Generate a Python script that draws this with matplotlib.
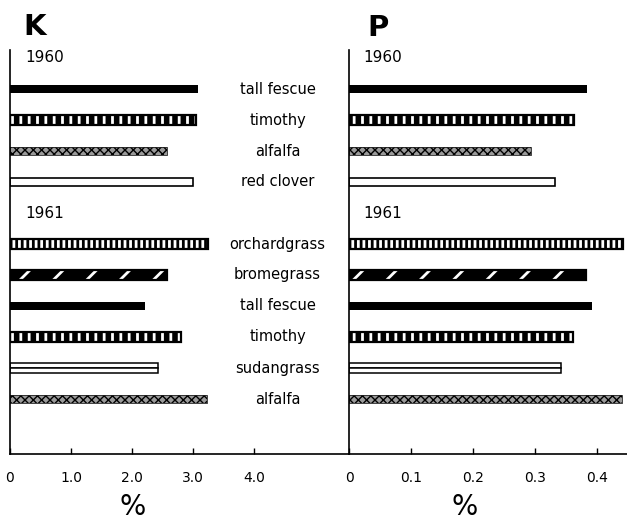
import matplotlib
matplotlib.use("Agg")
import matplotlib.pyplot as plt

plt.rcParams["font.family"] = ["DejaVu Sans"]

# ---- data -------------------------------------------------------------
crops_1960 = ["tall fescue", "timothy", "alfalfa", "red clover"]
k_1960 = [3.08, 3.04, 2.57, 3.00]
p_1960 = [0.385, 0.363, 0.294, 0.333]

crops_1961 = ["orchardgrass", "bromegrass", "tall fescue", "timothy",
              "sudangrass", "alfalfa"]
k_1961 = [3.24, 2.57, 2.21, 2.80, 2.42, 3.22]
p_1961 = [0.443, 0.383, 0.393, 0.362, 0.342, 0.441]

k_ticks = [0, 1, 2, 3, 4]
k_ticklabels = ["0", "1.0", "2.0", "3.0", "4.0"]
p_ticks = [0, 0.1, 0.2, 0.3, 0.4]
p_ticklabels = ["0", "0.1", "0.2", "0.3", "0.4"]

# fill style of each crop's bar
crop_style = {
    "tall fescue": "solid",
    "timothy": "vbar",
    "orchardgrass": "vbar_dense",
    "bromegrass": "diag",
    "alfalfa": "check",
    "red clover": "open",
    "sudangrass": "double",
}

# ---- layout (pixel geometry of a 627 x 524 canvas) ---------------------
W, H = 627, 524
fig = plt.figure(figsize=(W / 100, H / 100), dpi=100)
fig.patch.set_facecolor("white")


def px_axes(x0, x1, y0, y1):
    return fig.add_axes([x0 / W, 1 - y1 / H, (x1 - x0) / W, (y1 - y0) / H])


axK = px_axes(10, 349, 50, 454)
axP = px_axes(349, 627, 50, 454)

# row slots: 1960 header at 0, rows 1-4, 1961 header at 5, rows 6-11
slots_1960 = [1, 2, 3, 4]
slots_1961 = [6, 7, 8, 9, 10, 11]
y_top, y_bottom = (50 - 58) / 31, (454 - 58) / 31


def draw_bar(ax, y, val, style):
    if style == "solid":
        ax.barh(y, val, height=0.28, color="black", lw=0)
    elif style in ("vbar", "vbar_dense", "diag"):
        hatch = {"vbar": "||", "vbar_dense": "|||", "diag": "/"}[style]
        h = 0.31
        ax.barh(y, val, height=h, facecolor="black", edgecolor="white",
                hatch=hatch, lw=0, hatch_linewidth=2.0)
        ax.barh(y, val, height=h, fill=False, edgecolor="black", lw=1.6)
    elif style == "check":
        h = 0.26
        ax.barh(y, val, height=h, facecolor="#9a9a9a", edgecolor="black",
                hatch="xxxx", lw=0, hatch_linewidth=1.0)
        ax.barh(y, val, height=h, fill=False, edgecolor="#222222", lw=0.6)
    elif style == "open":
        ax.barh(y, val, height=0.29, facecolor="white", edgecolor="black",
                lw=1.2)
    elif style == "double":
        h = 0.35
        for dy in (-h / 4, h / 4):
            ax.barh(y + dy, val, height=h / 2, facecolor="white",
                    edgecolor="black", lw=1.1)


for ax, v60, v61 in ((axK, k_1960, k_1961), (axP, p_1960, p_1961)):
    for crop, y, v in zip(crops_1960, slots_1960, v60):
        draw_bar(ax, y, v, crop_style[crop])
    for crop, y, v in zip(crops_1961, slots_1961, v61):
        draw_bar(ax, y, v, crop_style[crop])

# crop names between the two panels
for crop, y in list(zip(crops_1960, slots_1960)) + list(zip(crops_1961, slots_1961)):
    axK.text(4.38, y, crop, ha="center", va="center", fontsize=10.5)

# year headers
for ax, x in ((axK, 0.25), (axP, 0.0225)):
    ax.text(x, 0, "1960", ha="left", va="center", fontsize=11)
    ax.text(x, 5, "1961", ha="left", va="center", fontsize=11)

# axes styling
axK.set_xlim(0, 339 / 61.1)
axP.set_xlim(0, 278 / 619)
for ax, ticks, labels in ((axK, k_ticks, k_ticklabels), (axP, p_ticks, p_ticklabels)):
    ax.set_ylim(y_bottom, y_top)
    ax.set_facecolor("none")
    ax.set_yticks([])
    ax.set_xticks(ticks)
    ax.set_xticklabels(labels)
    ax.tick_params(axis="x", direction="in", length=4, width=1.0, pad=12,
                   labelsize=10)
    for s in ("top", "right"):
        ax.spines[s].set_visible(False)
    for s in ("left", "bottom"):
        ax.spines[s].set_linewidth(1.2)

# panel letters and unit labels
fig.text(23 / W, 1 - 35 / H, "K", fontsize=21, fontweight="bold",
         ha="left", va="baseline")
fig.text(367 / W, 1 - 36 / H, "P", fontsize=21, fontweight="bold",
         ha="left", va="baseline")
fig.text(133 / W, 1 - 493 / H, "%", fontsize=20, ha="center", va="top")
fig.text(465 / W, 1 - 493 / H, "%", fontsize=20, ha="center", va="top")

fig.savefig("out.png", dpi=100)
